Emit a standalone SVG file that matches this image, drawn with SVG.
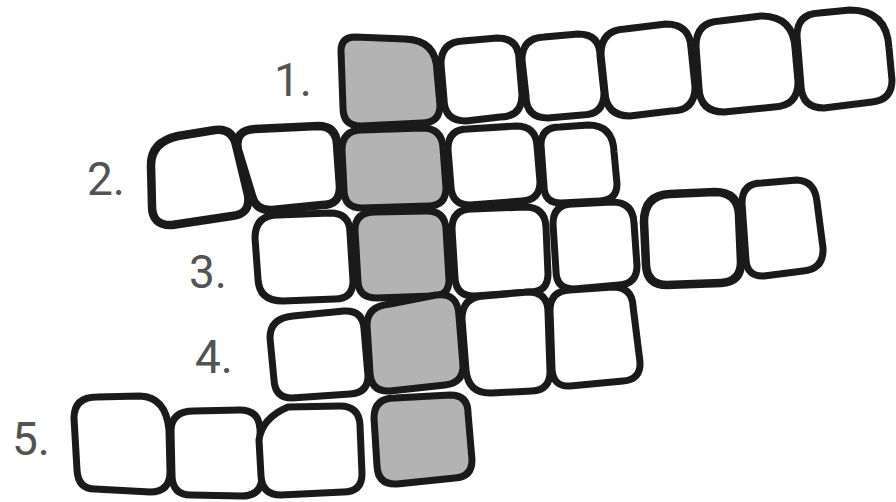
<svg xmlns="http://www.w3.org/2000/svg" width="896" height="502" viewBox="0 0 896 502">
<style>
.c{fill:#fff;stroke:#1a1a1a;stroke-width:7;stroke-linejoin:round}
.g{fill:#b3b3b3}
.t{stroke-width:8.5}
.lbl{font-family:Roboto,"Liberation Sans",sans-serif;font-size:46px;fill:#535353}
</style>
<rect width="896" height="502" fill="#fff"/>
<g id="row1">
<path class="c g" d="M355,37 L405,39 Q437,40 437,72 L440,105 Q440,123 422,123 L361,126 Q343,126 343,108 L341,51 Q341,37 355,37 Z"/>
<path class="c" d="M463,41 L497,38 Q519,38 519,60 L522,95 Q522,117 500,117 L466,121 Q444,121 444,99 L441,64 Q441,42 463,41 Z"/>
<path class="c" d="M544,37 L578,34 Q600,34 600,56 L604,93 Q604,115 582,115 L548,118 Q526,118 526,96 L522,60 Q522,38 544,37 Z"/>
<path class="c" d="M625,29 L666,24 Q690,24 691,48 L695,87 Q695,111 671,111 L630,116 Q606,116 605,92 L601,54 Q601,30 625,29 Z"/>
<path class="c" d="M720,21 L761,16 Q793,16 795,48 L798,82 Q798,106 774,107 L724,112 Q700,112 699,88 L696,46 Q696,22 720,21 Z"/>
<path class="c" d="M819,13 L850,10 Q887,10 889,48 L892,80 Q892,100 872,102 L824,108 Q802,108 801,86 L797,36 Q797,14 819,13 Z"/>
</g>
<g id="row2">
<path class="c t" d="M178,136 L215,130 Q232,128 236,145 L248,195 Q251,214 232,216 L172,225 Q152,226 152,206 L151,165 Q151,142 178,136 Z"/>
<path class="c t" d="M255,129 L318,126 Q336,126 337,144 L340,187 Q340,205 322,205 L272,210 Q256,211 252,196 L238,150 Q234,130 255,129 Z"/>
<path class="c g" d="M362,130 L422,128 Q442,128 443,148 L446,188 Q446,206 428,206 L362,208 Q344,208 344,190 L342,150 Q342,130 362,130 Z"/>
<path class="c" d="M468,129 L516,126 Q536,126 537,146 L540,182 Q540,200 522,201 L470,205 Q452,205 451,187 L448,149 Q448,129 468,129 Z"/>
<path class="c" d="M560,127 L588,125 Q613,125 614,152 L617,184 Q617,200 600,201 L561,203 Q544,203 544,186 L541,145 Q541,127 560,127 Z"/>
</g>
<g id="row3">
<path class="c" d="M278,215 L330,213 Q350,213 350,233 L353,281 Q353,299 335,299 L283,301 Q259,301 258,279 L255,238 Q255,215 278,215 Z"/>
<path class="c g" d="M375,212 L427,211 Q445,211 446,229 L449,280 Q449,296 433,296 L377,298 Q359,298 358,282 L355,230 Q355,212 375,212 Z"/>
<path class="c" d="M472,209 L525,207 Q545,207 546,227 L548,274 Q548,292 530,292 L474,296 Q456,296 455,278 L452,229 Q452,209 472,209 Z"/>
<path class="c" d="M573,204 L612,202 Q633,202 634,223 L637,266 Q637,284 619,285 L574,289 Q556,289 556,271 L553,224 Q553,204 573,204 Z"/>
<path class="c t" d="M670,194 L715,192 Q738,192 739,215 L741,262 Q741,282 721,283 L667,285 Q647,285 646,265 L644,222 Q644,195 670,194 Z"/>
<path class="c" d="M762,183 L797,180 Q815,181 817,202 L823,248 Q824,269 803,271 L764,276 Q747,277 746,260 L742,203 Q742,183 762,183 Z"/>
</g>
<g id="row4">
<path class="c" d="M293,316 L344,311 Q363,310 364,329 L368,376 Q368,393 350,394 L292,398 Q275,398 274,380 L270,338 Q270,318 293,316 Z"/>
<path class="c g" d="M390,304 L436,295 Q458,292 459,316 L463,366 Q463,383 445,385 L390,391 Q371,392 370,373 L367,325 Q367,306 390,304 Z"/>
<path class="c" d="M484,296 L528,292 Q548,292 548,312 L550,372 Q550,390 532,391 L492,393 Q468,394 466,370 L462,319 Q462,297 484,296 Z"/>
<path class="c" d="M570,290 L613,287 Q632,287 633,306 L640,362 Q641,380 623,381 L570,386 Q553,387 552,369 L550,310 Q550,291 570,290 Z"/>
</g>
<g id="row5">
<path class="c" d="M97,397 L140,396 Q166,397 169,430 L170,472 Q170,492 150,492 L95,489 Q78,489 77,470 L74,418 Q74,397 97,397 Z"/>
<path class="c" d="M194,411 L240,410 Q259,410 260,429 L262,476 Q262,496 242,496 L191,495 Q172,495 172,475 L171,431 Q171,411 194,411 Z"/>
<path class="c" d="M288,407 L340,406 Q359,406 360,425 L362,474 Q362,492 343,492 L281,495 Q262,495 261,476 L259,440 Q262,418 288,407 Z"/>
<path class="c g" d="M395,398 L450,395 Q468,395 468,413 L472,460 Q472,477 455,478 L397,484 Q378,485 377,466 L374,418 Q374,398 395,398 Z"/>
</g>
<g id="labels">
<text class="lbl" x="274" y="96">1.</text>
<text class="lbl" x="87" y="195">2.</text>
<text class="lbl" x="189" y="288">3.</text>
<text class="lbl" x="195" y="373">4.</text>
<text class="lbl" x="12" y="455">5.</text>
</g>
</svg>
